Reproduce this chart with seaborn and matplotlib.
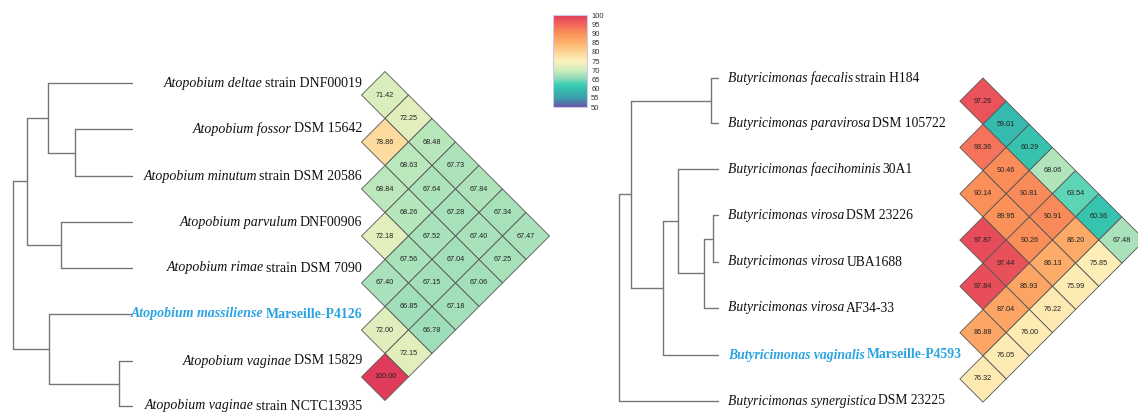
import numpy as np
import pandas as pd
import matplotlib.pyplot as plt
from matplotlib.colors import LinearSegmentedColormap, Normalize
from matplotlib.cm import ScalarMappable
import seaborn as sns

'data: left panel (Atopobium)'
left_species = ["Atopobium deltae", "Atopobium fossor", "Atopobium minutum",
                "Atopobium parvulum", "Atopobium rimae", "Atopobium massiliense",
                "Atopobium vaginae", "Atopobium vaginae"]
left_strains = ["strain DNF00019", "DSM 15642", "strain DSM 20586", "DNF00906",
                "strain DSM 7090", "Marseille-P4126", "DSM 15829", "strain NCTC13935"]
left_highlight = 5
# upper triangle, row i holds values for j > i
left_ani = [[71.42, 72.25, 68.48, 67.73, 67.84, 67.34, 67.47],
            [78.86, 68.63, 67.64, 67.28, 67.40, 67.25],
            [68.84, 68.26, 67.52, 67.04, 67.06],
            [72.18, 67.56, 67.15, 67.18],
            [67.40, 66.85, 66.78],
            [72.00, 72.15],
            [100.00]]
# internal nodes: (child a, child b, depth)
left_tree = [(1, 2, 75), (0, 8, 48), (3, 4, 61), (9, 10, 27),
             (6, 7, 119), (5, 12, 49), (11, 13, 13)]

'data: right panel (Butyricimonas)'
right_species = ["Butyricimonas faecalis", "Butyricimonas paravirosa",
                 "Butyricimonas faecihominis", "Butyricimonas virosa",
                 "Butyricimonas virosa", "Butyricimonas virosa",
                 "Butyricimonas vaginalis", "Butyricimonas synergistica"]
right_strains = ["strain H184", "DSM 105722", "30A1", "DSM 23226", "UBA1688",
                 "AF34-33", "Marseille-P4593", "DSM 23225"]
right_highlight = 6
right_ani = [[97.26, 59.01, 60.29, 68.06, 63.54, 60.36, 67.48],
             [93.36, 90.46, 90.81, 90.91, 86.20, 75.85],
             [90.14, 89.95, 90.26, 86.13, 75.99],
             [97.87, 97.44, 86.93, 76.22],
             [97.84, 87.04, 76.00],
             [86.88, 76.05],
             [76.32]]
right_tree = [(0, 1, 711), (3, 4, 713), (9, 5, 704), (2, 10, 678),
              (11, 6, 663), (8, 12, 631), (13, 7, 619)]

cbar_ticks = [50, 55, 60, 65, 70, 75, 80, 85, 90, 95, 100]

'colour scale'
anchor_vals = [50, 55, 60, 62.5, 65, 70, 75, 80, 85, 90, 95, 100]
anchor_cols = ["#6657a8", "#3b9fae", "#35c1ad", "#40d2b3", "#86d8b7", "#cdecbd",
               "#fdf2bd", "#fdd393", "#fdb26c", "#fa9159", "#f2665a", "#e03b5a"]
cmap = LinearSegmentedColormap.from_list(
    "ani", [((v - 50) / 50, c) for v, c in zip(anchor_vals, anchor_cols)])
norm = Normalize(50, 100)

BLUE = "#2ba3e0"
SERIF = "Liberation Serif"
SANS = "Liberation Sans"

sns.set_style("white")

W, H = 1138, 412
fig = plt.figure(figsize=(W / 100, H / 100), dpi=100)
ax = fig.add_axes([0, 0, 1, 1])
ax.set_xlim(0, W)
ax.set_ylim(H, 0)
ax.axis("off")
renderer = fig.canvas.get_renderer()


def draw_tree(ax, tree, row_y, tip_x):
    n = len(row_y)
    node_x = {k: tip_x for k in range(n)}
    node_y = {k: row_y[k] for k in range(n)}
    for k, (a, b, x) in enumerate(tree):
        nid = n + k
        node_x[nid] = x
        node_y[nid] = (node_y[a] + node_y[b]) / 2
        ax.plot([x, x], [node_y[a], node_y[b]], color="#777777", lw=1.0)
        for c in (a, b):
            ax.plot([x, node_x[c]], [node_y[c], node_y[c]], color="#777777", lw=1.0)


def put_label(ax, x, y, sp, st, ha, hl, size):
    color = BLUE if hl else "#111111"
    w = "bold" if hl else "normal"
    kw = dict(va="center", color=color, weight=w, family=SERIF, fontsize=size)
    gap = size * 0.2
    if ha == "left":
        t = ax.text(x, y, sp, ha="left", style="italic", **kw)
        x1 = t.get_window_extent(renderer).x1
        ax.text(x1 + gap, y, st, ha="left", **kw)
    else:
        t = ax.text(x, y, st, ha="right", **kw)
        x0 = t.get_window_extent(renderer).x0
        ax.text(x0 - gap, y, sp, ha="right", style="italic", **kw)


def draw_grid(ax, ani, x0, y0, h):
    rows = []
    for i, vals in enumerate(ani):
        for k, v in enumerate(vals):
            j = i + 1 + k
            rows.append({"x": x0 + (j - i - 1) * h,
                         "y": y0 + (i + j) * h,
                         "val": v})
    df = pd.DataFrame(rows)
    s = (h * 72 / (100 * np.sqrt(0.5))) ** 2
    sns.scatterplot(data=df, x="x", y="y", hue="val", palette=cmap,
                    hue_norm=norm, marker="D", s=s, edgecolor="#555555",
                    linewidth=0.6, legend=False, ax=ax, zorder=2)
    for r in df.itertuples():
        ax.text(r.x, r.y, f"{r.val:.2f}", ha="center", va="center",
                fontsize=5.2, family=SANS, color="#222222", zorder=3)


'left panel'
left_rows = [83, 129, 176, 222, 268, 314, 361, 406]
draw_tree(ax, left_tree, left_rows, 132)
for k in range(len(left_species)):
    put_label(ax, 362, left_rows[k], left_species[k], left_strains[k], "right",
              k == left_highlight, 10)
draw_grid(ax, left_ani, 385, 71.5, 23.5)

'right panel'
right_rows = [78, 123, 169, 215, 262, 308, 355, 401]
draw_tree(ax, right_tree, right_rows, 718)
for k in range(len(right_species)):
    put_label(ax, 728, right_rows[k], right_species[k], right_strains[k], "left",
              k == right_highlight, 9.8)
draw_grid(ax, right_ani, 983, 78, 23.15)

ax.set_xlim(0, W)
ax.set_ylim(H, 0)

'colour bar'
cax = fig.add_axes([553 / W, 1 - 107 / H, 34 / W, 92 / H])
cb = fig.colorbar(ScalarMappable(norm=norm, cmap=cmap), cax=cax, ticks=cbar_ticks)
cb.ax.tick_params(length=0, labelsize=5.5, pad=3, colors="#333333")
for t in cb.ax.get_yticklabels():
    t.set_family(SANS)
cb.outline.set_edgecolor("#d0c8e8")
cb.outline.set_linewidth(0.8)

fig.savefig("out.png", dpi=100, facecolor="white")
